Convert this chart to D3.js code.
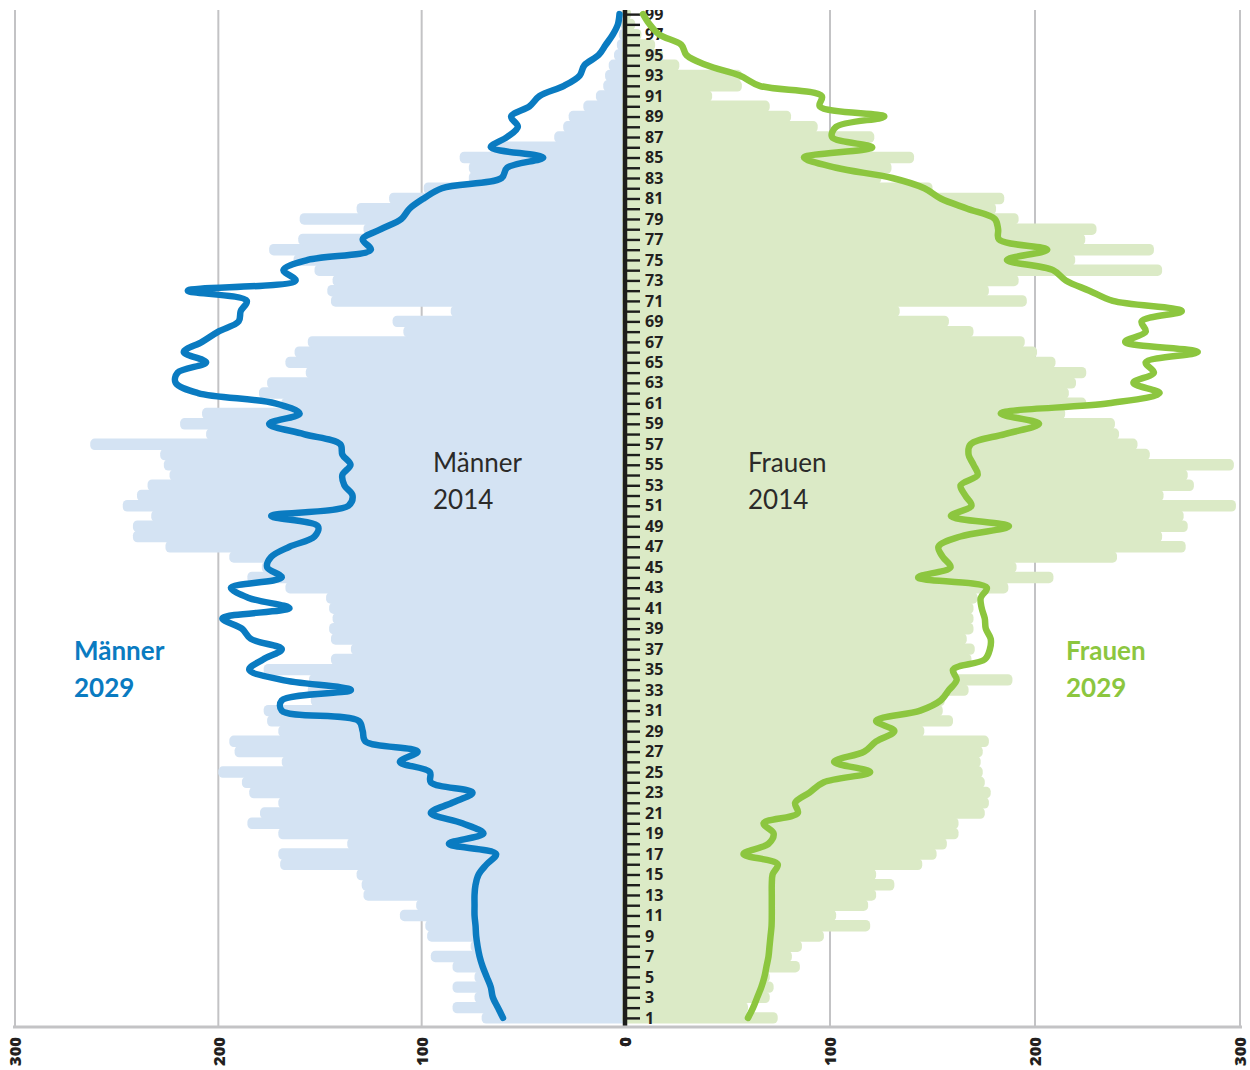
<!DOCTYPE html>
<html>
<head>
    <meta charset="utf-8">
    <title>Bevölkerungspyramide 2014 / 2029</title>
    <script src="https://d3js.org/d3.v7.min.js"></script>
    <style>
        body { margin: 0; background: #fff; }
        svg { display: block; }
        text { font-family: "Open Sans", "Noto Sans", sans-serif; }
    </style>
</head>
<body>
<div id="chart"></div>
<script>
// ages 1..99, values per age (index 0 = age 1)
const ages = d3.range(1, 100);

const men2014 = [
    70.5, 84.8, 74, 84.8, 74, 84.8, 95.5, 75.9, 97.3, 98.2,
    110.7, 102.7, 128.6, 129.5, 132, 169.6, 170.5, 136.6, 170.5, 185.7,
    179.5, 170.5, 184.8, 188.4, 200, 168.8, 192, 194.6, 170.5, 176,
    177.7, 154.5, 156, 155.4, 177.7, 144.6, 134.8, 144.6, 145.5, 143.8,
    145.5, 147, 167, 185.7, 178.6, 194.6, 226, 242, 242, 233,
    247, 240, 234.8, 224, 226.8, 228.6, 263, 206, 218.8, 208,
    169, 180, 176, 157, 167, 162.5, 156, 109, 114.3, 85.7,
    144.6, 146.4, 143.8, 152.7, 163, 175, 160.7, 128.6, 160, 132,
    116, 99, 76.8, 76.8, 81.3, 63.4, 34.8, 30.4, 27.7, 20.5,
    14.3, 10.7, 9.8, 8, 5.4, 4, 3, 2, 1
];

const women2014 = [
    74.5, 60, 70.6, 72.5, 70.6, 85.3, 81.4, 86.3, 97, 119.6,
    103, 118.6, 122.5, 131.4, 122.5, 145, 152, 157, 162.7, 162.7,
    175.5, 177.5, 178.4, 175.5, 174.5, 173.5, 174.5, 177.5, 146, 160,
    155, 156, 167.6, 189, 162, 169, 170.6, 166.7, 170, 170,
    170, 172, 187, 209, 191, 240, 273.5, 262, 274.5, 272.5,
    298, 262.7, 277.5, 274.5, 297, 256, 250, 241, 239, 214.7,
    225, 216.5, 220, 225, 210, 201, 195, 170, 158, 134,
    196, 177.5, 192, 262, 219.6, 258, 224.5, 230, 192, 181,
    185, 150, 125, 130, 141, 118, 121.6, 94, 81, 70.6,
    42.5, 57, 57, 26.5, 18.6, 14.7, 8, 5, 3
];

const men2029 = [
    60, 62.5, 65, 66, 68, 70, 71.5, 72.5, 73.2, 73.5,
    74, 74, 74, 73.5, 72, 68, 63.4, 86.6, 69.6, 80,
    95.5, 85, 75, 95.5, 96, 110.7, 102, 127.7, 129, 131,
    168.8, 168.8, 134.8, 168.8, 184.8, 178, 168.8, 184, 188.4, 198,
    165, 185, 193.8, 168.8, 176, 174, 165, 152.7, 151, 174,
    136, 134, 138, 139, 135, 139, 140, 158, 175, 160,
    172, 210, 221, 220, 206, 217, 208, 200, 190, 189,
    186, 215, 162, 168, 156, 125, 129, 120, 110, 106,
    99, 90, 60.7, 58, 40.2, 66, 58, 52.7, 56, 47,
    42, 30, 22.3, 20, 13, 9.5, 6, 3.5, 2.7
];

const women2029 = [
    60, 62.5, 64.5, 66.5, 68, 69, 70, 70.5, 71, 71.5,
    71.6, 71.6, 71.6, 71.6, 72, 74.5, 57.8, 70, 72.5, 67.6,
    84.3, 83, 90, 97, 119.6, 102, 116.7, 122.5, 131.4, 122.5,
    144, 154, 158, 161.8, 160, 175.5, 178, 178.4, 176, 175.5,
    174, 173.5, 176.5, 143, 158.8, 155, 152.9, 163.7, 187.3, 159,
    169, 166, 163.7, 172, 170, 167.6, 168.6, 185.3, 202, 183.3,
    236, 260.8, 248, 258, 254, 279.4, 244, 254, 252, 271.6,
    238, 226.5, 215, 208.8, 186.3, 206, 182.4, 182, 180.4, 167,
    154, 146, 130.4, 103, 87.3, 120.6, 101, 103, 126.5, 95,
    96, 65.7, 56, 40, 30, 27.5, 16.7, 12, 8.8
];

const xTicks = [0, 100, 200, 300];

const W = 1250, H = 1070;
const cx = 625, topY = 10, baseY = 1027;

const svg = d3.select("#chart").append("svg")
    .attr("width", W)
    .attr("height", H);

const xL = d3.scaleLinear().domain([0, 300]).range([cx, 15]);
const xR = d3.scaleLinear().domain([0, 300]).range([cx, 1240]);
const y = d3.scaleLinear().domain([0.5, 99.5]).range([1023, 9]);
const band = y(0.5) - y(1.5);

svg.append("defs").append("clipPath").attr("id", "plotclip")
    .append("rect").attr("x", 0).attr("y", topY).attr("width", W).attr("height", baseY - topY + 40);

const g = svg.append("g").attr("clip-path", "url(#plotclip)");

// vertical gridlines
const grid = [
    ...xTicks.filter(d => d > 0).map(d => xL(d)),
    ...xTicks.filter(d => d > 0).map(d => xR(d))
];
g.append("g").selectAll("line")
    .data(grid)
    .join("line")
    .attr("x1", d => d).attr("x2", d => d)
    .attr("y1", topY).attr("y2", baseY)
    .attr("stroke", "#c3c3c5")
    .attr("stroke-width", 2);

// 2014 bars (overlap a little so no seams show between ages)
g.append("g").selectAll("rect")
    .data(ages)
    .join("rect")
    .attr("x", a => xL(men2014[a - 1]))
    .attr("y", a => y(a) - band / 2 - 0.6)
    .attr("width", a => cx - xL(men2014[a - 1]) + 3)
    .attr("height", band + 1.2)
    .attr("rx", 4.5)
    .attr("fill", "#d4e3f3");

g.append("g").selectAll("rect")
    .data(ages)
    .join("rect")
    .attr("x", cx - 3)
    .attr("y", a => y(a) - band / 2 - 0.6)
    .attr("width", a => xR(women2014[a - 1]) - cx + 3)
    .attr("height", band + 1.2)
    .attr("rx", 4.5)
    .attr("fill", "#dbeac6");

// bottom axis
svg.append("line")
    .attr("x1", 13).attr("x2", 1242)
    .attr("y1", baseY).attr("y2", baseY)
    .attr("stroke", "#c3c3c5")
    .attr("stroke-width", 3);

function bottomLabels(scale) {
    const ax = svg.append("g")
        .attr("transform", `translate(0,${baseY})`)
        .call(d3.axisBottom(scale).tickValues(xTicks).tickSize(0).tickFormat(d3.format("d")));
    ax.select(".domain").remove();
    ax.selectAll("text")
        .attr("transform", "rotate(-90)")
        .attr("x", -10)
        .attr("y", 0)
        .attr("dy", "0.36em")
        .style("text-anchor", "end")
        .style("font-family", "'Open Sans', sans-serif")
        .style("font-size", "16.5px")
        .style("font-weight", "800")
        .attr("fill", "#231f20");
}
bottomLabels(xL);
bottomLabels(xR);

// centre axis with age ticks
g.append("line")
    .attr("x1", cx).attr("x2", cx)
    .attr("y1", topY).attr("y2", baseY - 1)
    .attr("stroke", "#1d1d1b")
    .attr("stroke-width", 4.5);

const ageAxis = g.append("g")
    .attr("transform", `translate(${cx + 2},0)`)
    .call(d3.axisRight(y).tickValues(ages).tickSize(13).tickPadding(5)
        .tickFormat(a => a % 2 === 1 ? a : ""));
ageAxis.select(".domain").remove();
ageAxis.selectAll("line").attr("stroke", "#1d1d1b").attr("stroke-width", 2.4);
ageAxis.selectAll("text")
    .style("font-family", "'Open Sans', sans-serif")
    .style("font-size", "16px")
    .style("font-weight", "700")
    .attr("fill", "#231f20");

// 2029 lines
const lineL = d3.line()
    .x(a => xL(men2029[a - 1]))
    .y(a => y(a))
    .curve(d3.curveCatmullRom.alpha(0.5));
const lineR = d3.line()
    .x(a => xR(women2029[a - 1]))
    .y(a => y(a))
    .curve(d3.curveCatmullRom.alpha(0.5));

g.append("path")
    .datum(ages)
    .attr("d", lineL)
    .attr("fill", "none")
    .attr("stroke", "#0a7bc1")
    .attr("stroke-width", 6.5)
    .attr("stroke-linejoin", "round")
    .attr("stroke-linecap", "round");

g.append("path")
    .datum(ages)
    .attr("d", lineR)
    .attr("fill", "none")
    .attr("stroke", "#8cc63f")
    .attr("stroke-width", 6.5)
    .attr("stroke-linejoin", "round")
    .attr("stroke-linecap", "round");

// labels
const labels = [
    { lines: ["Männer", "2014"], x: 433, y: 472, color: "#2b2a29", weight: 400 },
    { lines: ["Frauen", "2014"], x: 748, y: 472, color: "#2b2a29", weight: 400 },
    { lines: ["Männer", "2029"], x: 74, y: 660, color: "#0a7bc1", weight: 700 },
    { lines: ["Frauen", "2029"], x: 1066, y: 660, color: "#8cc63f", weight: 700 }
];
labels.forEach(l => {
    const t = svg.append("text")
        .attr("x", l.x).attr("y", l.y)
        .attr("fill", l.color)
        .style("font-family", "Lato, 'Open Sans', sans-serif")
        .style("font-size", "26px")
        .style("font-weight", l.weight);
    l.lines.forEach((s, i) => {
        t.append("tspan").attr("x", l.x).attr("dy", i === 0 ? 0 : 37).text(s);
    });
});
</script>
</body>
</html>
